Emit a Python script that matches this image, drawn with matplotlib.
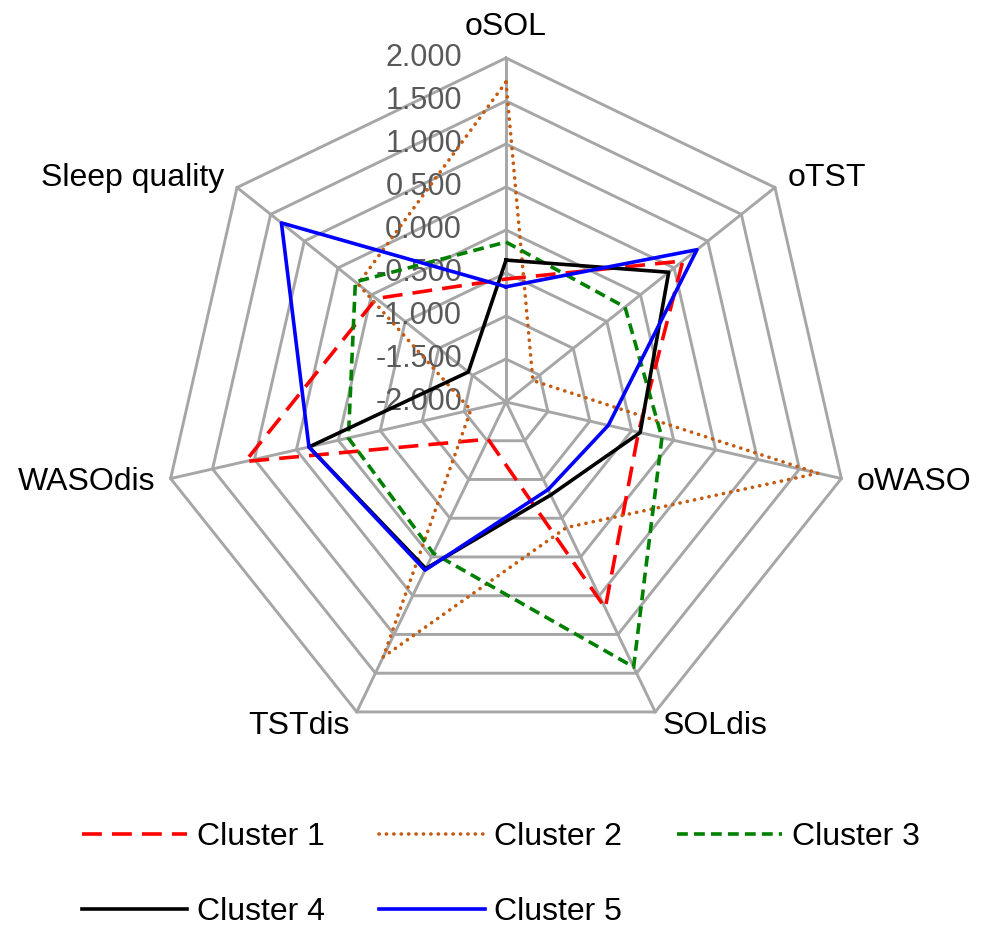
import numpy as np
import matplotlib
matplotlib.use("Agg")
import matplotlib.pyplot as plt

# radar chart estilo excel con 7 ejes y 5 clusters
categorias = ["oSOL", "oTST", "oWASO", "SOLdis", "TSTdis", "WASOdis", "Sleep quality"]
ticks = [-2.0, -1.5, -1.0, -0.5, 0.0, 0.5, 1.0, 1.5, 2.0]

cluster1 = [-0.57, 0.63, -0.42, 0.66, -1.52, 1.11, -0.07]
cluster2 = [1.72, -1.60, 1.72, -0.38, 1.29, -1.58, 0.20]
cluster3 = [-0.14, -0.23, -0.14, 1.42, -0.05, -0.12, 0.24]
cluster4 = [-0.35, 0.42, -0.40, -0.80, 0.15, 0.35, -1.44]
cluster5 = [-0.66, 0.84, -0.78, -0.87, 0.17, 0.35, 1.34]
nombres = ["Cluster 1", "Cluster 2", "Cluster 3", "Cluster 4", "Cluster 5"]

plt.rcParams['font.family'] = ['Liberation Sans', 'DejaVu Sans']

W, H = 988, 925
cx, cy, esc = 506, 402, 86.0  # centro en px y px por unidad

fig = plt.figure(figsize=(W / 100, H / 100), dpi=100)
ax = fig.add_axes([0, 0, 1, 1])
ax.set_xlim(-cx / esc, (W - cx) / esc)
ax.set_ylim(-(H - cy) / esc, cy / esc)
ax.axis("off")

n = len(categorias)
ang = np.pi / 2 - np.arange(n) * 2 * np.pi / n
ux, uy = np.cos(ang), np.sin(ang)
rmin = ticks[0]

def xy(valores):
    r = np.array(valores) - rmin
    x = r * ux
    y = r * uy
    return np.append(x, x[0]), np.append(y, y[0])

gris = "#a6a6a6"
for t in ticks[1:]:
    gx, gy = xy([t] * n)
    ax.plot(gx, gy, color=gris, lw=2.1, zorder=1)
rmax = ticks[-1] - rmin
for i in range(n):
    ax.plot([0, rmax * ux[i]], [0, rmax * uy[i]], color=gris, lw=2.1, zorder=1)

for t in ticks:
    ax.text(-44 / esc, t - rmin, f"{t:.3f}", ha="right", va="center",
            fontsize=22, color="#595959", zorder=2)

pad = 16 / esc
for i, cat in enumerate(categorias):
    x, y = (rmax + pad) * ux[i], (rmax + pad) * uy[i]
    if abs(ux[i]) < 0.01:
        ax.text(x, y, cat, ha="center", va="bottom", fontsize=23)
    else:
        ax.text(x, y, cat, ha="left" if ux[i] > 0 else "right", va="center", fontsize=23)

estilos = [
    dict(color="#ff0000", dashes=(5.5, 2.8)),
    dict(color="#c55a11", dashes=(0.05, 2.0), dash_capstyle="round"),
    dict(color="#008000", dashes=(3.0, 1.7)),
    dict(color="#000000"),
    dict(color="#0000ff"),
]
series = [cluster1, cluster2, cluster3, cluster4, cluster5]
lineas = []
for vals, nom, est in zip(series, nombres, estilos):
    px, py = xy(vals)
    l, = ax.plot(px, py, lw=2.6, label=nom, zorder=3, **est)
    lineas.append(l)

# orden para que la leyenda se lea por filas
orden = [0, 3, 1, 4, 2]
fig.legend([lineas[i] for i in orden], [nombres[i] for i in orden],
           loc="upper left", bbox_to_anchor=(66 / W, 1 - 806 / H), ncol=3,
           frameon=False, fontsize=23, handlelength=3.3, handletextpad=0.3,
           columnspacing=1.7, labelspacing=1.4, borderpad=0)

fig.savefig("out.png", dpi=100)
